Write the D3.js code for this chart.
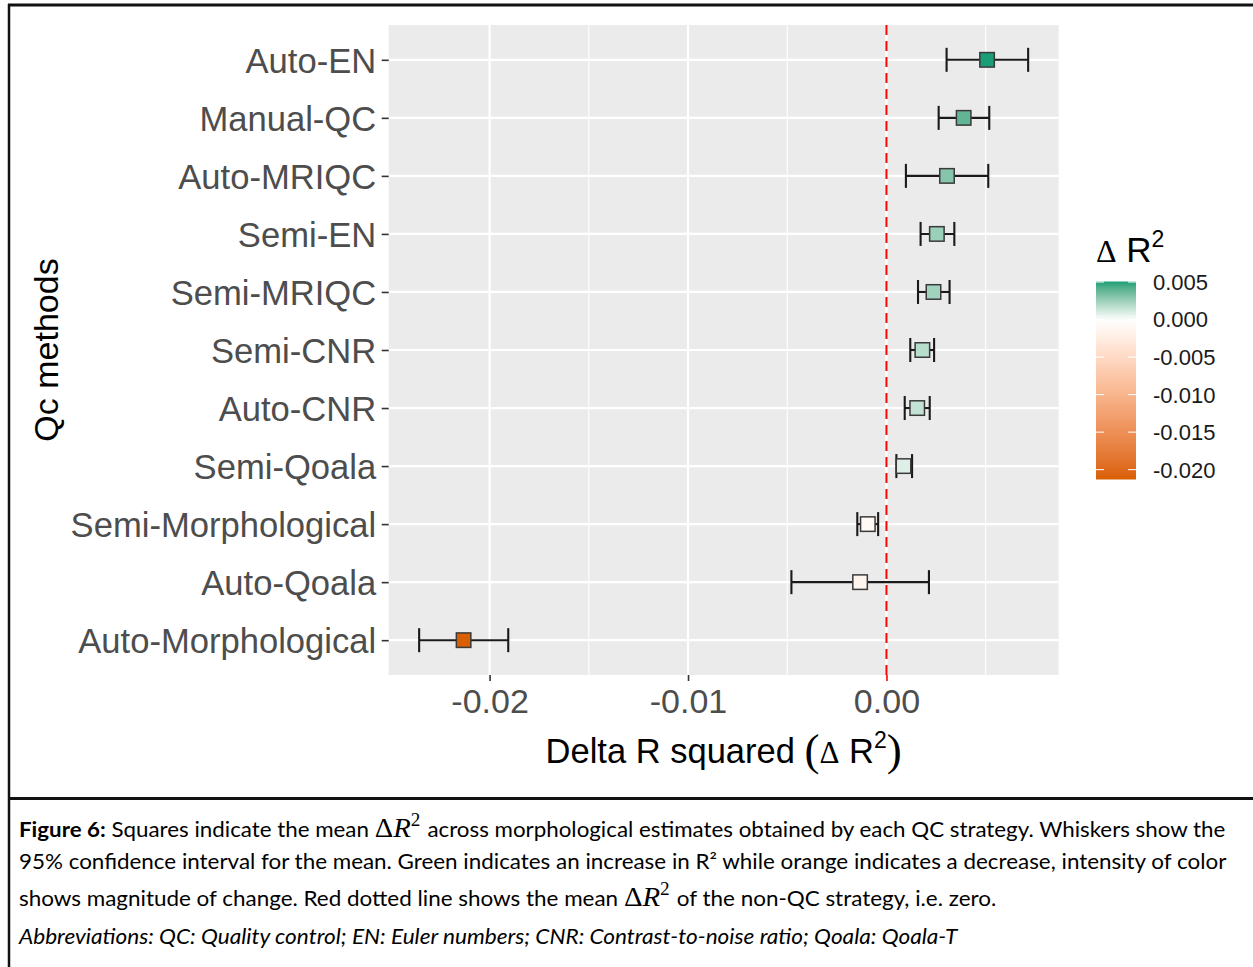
<!DOCTYPE html>
<html>
<head>
<meta charset="utf-8">
<script src="https://cdn.jsdelivr.net/npm/d3@7"></script>
<style>
  html, body { margin: 0; padding: 0; background: #ffffff; }
  svg { display: block; }
</style>
</head>
<body>
<script>
// ---------------- DATA ----------------
const categories = ["Auto-EN","Manual-QC","Auto-MRIQC","Semi-EN","Semi-MRIQC","Semi-CNR","Auto-CNR","Semi-Qoala","Semi-Morphological","Auto-Qoala","Auto-Morphological"];
const meanValues = [0.00507, 0.00389, 0.00305, 0.00254, 0.00237, 0.00181, 0.00155, 0.00086, -0.00094, -0.00133, -0.02131];
const lowerCI    = [0.00303, 0.00263, 0.00098, 0.00172, 0.00159, 0.00120, 0.00092, 0.00050, -0.00147, -0.00479, -0.02355];
const upperCI    = [0.00714, 0.00518, 0.00513, 0.00342, 0.00318, 0.00240, 0.00218, 0.00129, -0.00042, 0.00214, -0.01906];
const xTickValues = [-0.02, -0.01, 0.00];
const xMinorValues = [-0.015, -0.005, 0.005];
const legendTickValues = [0.005, 0.000, -0.005, -0.010, -0.015, -0.020];
const legendTickLabels = ["0.005", "0.000", "-0.005", "-0.010", "-0.015", "-0.020"];
const referenceValue = 0;

// ---------------- LAYOUT ----------------
const W = 1253, H = 967;
const panel = { left: 388.7, right: 1058.6, top: 25, bottom: 675 };
const sans = "'Liberation Sans', Arial, sans-serif";
const serif = "'Liberation Serif', 'DejaVu Serif', serif";

const svg = d3.select("body").append("svg").attr("width", W).attr("height", H)
  .style("background", "#fff");

const rows = categories.map((c, i) => ({ cat: c, mean: meanValues[i], lo: lowerCI[i], hi: upperCI[i] }));

// x scale with ggplot-like 5% expansion of data range
const xMin = d3.min(lowerCI), xMax = d3.max(upperCI);
const pad = (xMax - xMin) * 0.05;
const x = d3.scaleLinear().domain([xMin - pad, xMax + pad]).range([panel.left, panel.right]);
const y = d3.scalePoint().domain(categories).range([panel.top, panel.bottom]).padding(0.6);

const minMean = d3.min(meanValues), maxMean = d3.max(meanValues);
const color = d3.scaleLinear().domain([minMean, 0, maxMean])
  .range(["#D95F02", "#FFFFFF", "#1B9E77"]).interpolate(d3.interpolateLab);

// ---------------- FRAME ----------------
svg.append("line").attr("x1", 8).attr("x2", W).attr("y1", 5).attr("y2", 5)
  .attr("stroke", "#111").attr("stroke-width", 3);
svg.append("line").attr("x1", 9).attr("x2", 9).attr("y1", 4).attr("y2", H)
  .attr("stroke", "#111").attr("stroke-width", 2.5);
svg.append("line").attr("x1", 8).attr("x2", W).attr("y1", 798.5).attr("y2", 798.5)
  .attr("stroke", "#111").attr("stroke-width", 3);

// ---------------- PANEL ----------------
const g = svg.append("g");
g.append("rect").attr("x", panel.left).attr("y", panel.top)
  .attr("width", panel.right - panel.left).attr("height", panel.bottom - panel.top)
  .attr("fill", "#EBEBEB");

g.selectAll(".minor").data(xMinorValues).enter().append("line")
  .attr("x1", d => x(d)).attr("x2", d => x(d))
  .attr("y1", panel.top).attr("y2", panel.bottom)
  .attr("stroke", "#fff").attr("stroke-width", 1.1);
g.selectAll(".majorx").data(xTickValues).enter().append("line")
  .attr("x1", d => x(d)).attr("x2", d => x(d))
  .attr("y1", panel.top).attr("y2", panel.bottom)
  .attr("stroke", "#fff").attr("stroke-width", 2.2);
g.selectAll(".majory").data(categories).enter().append("line")
  .attr("x1", panel.left).attr("x2", panel.right)
  .attr("y1", d => y(d)).attr("y2", d => y(d))
  .attr("stroke", "#fff").attr("stroke-width", 2.2);

// error bars
const eb = g.selectAll(".eb").data(rows).enter().append("g");
eb.append("line").attr("x1", d => x(d.lo)).attr("x2", d => x(d.hi))
  .attr("y1", d => y(d.cat)).attr("y2", d => y(d.cat))
  .attr("stroke", "#1a1a1a").attr("stroke-width", 2.1);
eb.append("line").attr("x1", d => x(d.lo)).attr("x2", d => x(d.lo))
  .attr("y1", d => y(d.cat) - 12).attr("y2", d => y(d.cat) + 12)
  .attr("stroke", "#1a1a1a").attr("stroke-width", 2.1);
eb.append("line").attr("x1", d => x(d.hi)).attr("x2", d => x(d.hi))
  .attr("y1", d => y(d.cat) - 12).attr("y2", d => y(d.cat) + 12)
  .attr("stroke", "#1a1a1a").attr("stroke-width", 2.1);

// reference line
g.append("line").attr("x1", x(referenceValue)).attr("x2", x(referenceValue))
  .attr("y1", panel.top).attr("y2", panel.bottom)
  .attr("stroke", "#FF0000").attr("stroke-width", 2).attr("stroke-dasharray", "10,6");

// squares
const sq = 14.5;
g.selectAll(".sq").data(rows).enter().append("rect")
  .attr("x", d => x(d.mean) - sq / 2).attr("y", d => y(d.cat) - sq / 2)
  .attr("width", sq).attr("height", sq)
  .attr("fill", d => color(d.mean))
  .attr("stroke", "#3a3a3a").attr("stroke-width", 1.5);

// ---------------- AXES ----------------
const xAxis = svg.append("g").attr("transform", `translate(0,${panel.bottom})`)
  .call(d3.axisBottom(x).tickValues(xTickValues).tickFormat(d => d.toFixed(2)).tickSize(6).tickSizeOuter(0));
xAxis.select(".domain").remove();
xAxis.selectAll(".tick line").attr("stroke", d => d === referenceValue ? "#FF0000" : "#333").attr("stroke-width", 1.6);
xAxis.selectAll(".tick text").attr("y", 38).attr("dy", 0)
  .style("font-family", sans).style("font-size", "34px").attr("fill", "#4D4D4D");

const yAxis = svg.append("g").attr("transform", `translate(${panel.left},0)`)
  .call(d3.axisLeft(y).tickSize(7).tickPadding(5.5).tickSizeOuter(0));
yAxis.select(".domain").remove();
yAxis.selectAll(".tick line").attr("stroke", "#333").attr("stroke-width", 1.6);
yAxis.selectAll(".tick text").attr("dy", "0.36em")
  .style("font-family", sans).style("font-size", "34.6px").attr("fill", "#4D4D4D");

// axis titles
const xt = svg.append("text").attr("x", (panel.left + panel.right) / 2).attr("y", 763)
  .attr("text-anchor", "middle").style("font-family", sans).style("font-size", "34.5px").attr("fill", "#000");
xt.append("tspan").text("Delta R squared ");
xt.append("tspan").text("(").style("font-size", "45px").style("font-family", serif).attr("dy", 2);
xt.append("tspan").text("\u0394").style("font-family", serif).style("font-size", "31px").attr("dy", -2);
xt.append("tspan").text(" R");
xt.append("tspan").text("2").style("font-size", "23px").attr("dy", -15);
xt.append("tspan").text(")").style("font-size", "45px").style("font-family", serif).attr("dy", 17);

svg.append("text").attr("transform", `translate(58,${(panel.top + panel.bottom) / 2}) rotate(-90)`)
  .attr("text-anchor", "middle").style("font-family", sans).style("font-size", "34px").attr("fill", "#000")
  .text("Qc methods");

// ---------------- LEGEND ----------------
const lg = { x: 1096, w: 40, top: 281.5, bottom: 479.5 };
const ly = d3.scaleLinear().domain([minMean, maxMean]).range([lg.bottom, lg.top]);
const defs = svg.append("defs");
const grad = defs.append("linearGradient").attr("id", "lgrad")
  .attr("x1", 0).attr("x2", 0).attr("y1", 1).attr("y2", 0);
d3.range(0, 41).forEach(i => {
  const t = i / 40;
  const v = minMean + t * (maxMean - minMean);
  grad.append("stop").attr("offset", t).attr("stop-color", color(v));
});
svg.append("rect").attr("x", lg.x).attr("y", lg.top).attr("width", lg.w)
  .attr("height", lg.bottom - lg.top).attr("fill", "url(#lgrad)");
legendTickValues.forEach((v, i) => {
  const yy = ly(v);
  svg.append("line").attr("x1", lg.x).attr("x2", lg.x + 8).attr("y1", yy).attr("y2", yy)
    .attr("stroke", "#fff").attr("stroke-width", 1);
  svg.append("line").attr("x1", lg.x + lg.w - 8).attr("x2", lg.x + lg.w).attr("y1", yy).attr("y2", yy)
    .attr("stroke", "#fff").attr("stroke-width", 1);
  svg.append("text").attr("x", 1153).attr("y", yy).attr("dy", "0.36em")
    .style("font-family", sans).style("font-size", "22px").attr("fill", "#1a1a1a")
    .text(legendTickLabels[i]);
});
const lt = svg.append("text").attr("x", 1096).attr("y", 262)
  .style("font-family", sans).style("font-size", "35px").attr("fill", "#000");
lt.append("tspan").text("\u0394").style("font-family", serif).style("font-size", "32px");
lt.append("tspan").text(" R");
lt.append("tspan").text("2").style("font-size", "23px").attr("dy", -15);

// ---------------- CAPTION ----------------
const capFont = "Lato, 'Open Sans', sans-serif";
function mathDR(t) {
  t.append("tspan").text("\u0394").style("font-family", serif).style("font-size", "27px");
  t.append("tspan").text("R").style("font-family", serif).style("font-style", "italic").style("font-size", "27px");
  t.append("tspan").text("2").style("font-family", serif).style("font-size", "18px").attr("dy", -11);
  t.append("tspan").text("\u200A").attr("dy", 11);
}
const captionLines = [
  { y: 837, width: 1207, build: t => {
      t.append("tspan").text("Figure 6:").style("font-weight", "bold");
      t.append("tspan").text(" Squares indicate the mean ");
      mathDR(t);
      t.append("tspan").text(" across morphological estimates obtained by each QC strategy. Whiskers show the");
  }},
  { y: 869, width: 1208, build: t => {
      t.append("tspan").text("95% confidence interval for the mean. Green indicates an increase in R\u00B2 while orange indicates a decrease, intensity of color");
  }},
  { y: 906, width: 978, build: t => {
      t.append("tspan").text("shows magnitude of change. Red dotted line shows the mean ");
      mathDR(t);
      t.append("tspan").text(" of the non-QC strategy, i.e. zero.");
  }},
  { y: 944, width: 939, build: t => {
      t.append("tspan").text("Abbreviations: QC: Quality control; EN: Euler numbers; CNR: Contrast-to-noise ratio; Qoala: Qoala-T")
        .style("font-style", "italic");
  }}
];
captionLines.forEach(L => {
  const gg = svg.append("g");
  const t = gg.append("text").attr("x", 0).attr("y", 0)
    .style("font-family", capFont).style("font-size", "21px").attr("fill", "#000");
  L.build(t);
  const w = t.node().getComputedTextLength();
  const s = L.width / w;
  gg.attr("transform", `translate(19,${L.y}) scale(${s},1)`);
});
</script>
</body>
</html>
